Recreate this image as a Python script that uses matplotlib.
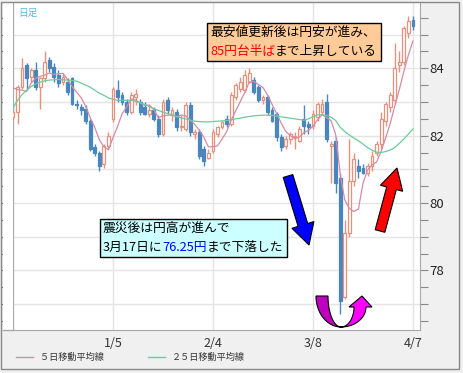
import numpy as np
import pandas as pd
import matplotlib.pyplot as plt
from matplotlib.patches import Rectangle, FancyArrow, Polygon
from matplotlib.transforms import IdentityTransform
from matplotlib.offsetbox import TextArea, HPacker, VPacker, AnnotationBbox
from matplotlib.lines import Line2D

plt.rcParams['font.family'] = ['Noto Sans CJK JP', 'DejaVu Sans']

W, H = 464, 373

# daily USD/JPY candles, 2010/12/6 .. 2011/4/7
opens = [82.55, 82.70, 83.45, 84.10, 83.75, 83.95, 83.45, 83.70, 84.25, 84.05,
         83.80, 83.60, 83.60, 83.70, 82.95, 82.85, 82.80, 82.45, 81.65, 81.50,
         81.15, 81.70, 82.50, 83.35, 83.20, 83.00, 82.70, 83.15, 83.00, 82.85,
         82.65, 82.75, 82.50, 82.05, 83.05, 82.60, 82.70, 82.25, 82.20, 82.90,
         82.05, 82.10, 81.60, 81.35, 81.55, 82.05, 82.25, 82.50, 82.35, 83.15,
         83.40, 83.35, 83.60, 83.65, 83.45, 83.05, 83.15, 82.75, 82.65, 81.95,
         81.70, 81.90, 81.95, 81.85, 82.50, 82.35, 82.30, 82.55, 82.70, 83.00,
         81.70, 81.85, 80.75, 77.20, 79.10, 80.65, 81.10, 81.05, 80.90, 81.10,
         81.50, 81.75, 82.45, 82.85, 83.05, 84.10, 84.20, 85.05, 85.45]
highs = [82.90, 83.50, 84.30, 84.15, 84.00, 84.20, 83.75, 84.50, 84.35, 84.15,
         83.95, 83.85, 83.70, 83.75, 83.05, 82.95, 82.90, 82.50, 81.75, 81.55,
         81.75, 82.10, 83.45, 83.65, 83.30, 83.10, 83.30, 83.40, 83.10, 83.00,
         82.90, 82.85, 82.60, 83.10, 83.15, 82.85, 82.80, 82.60, 83.00, 83.00,
         82.20, 82.20, 81.70, 81.60, 82.20, 82.30, 82.45, 82.60, 83.30, 83.55,
         83.75, 83.95, 84.00, 83.75, 83.50, 83.20, 83.20, 82.85, 82.70, 82.05,
         82.00, 82.10, 82.10, 82.30, 82.90, 82.45, 82.75, 83.00, 83.10, 83.25,
         81.85, 81.95, 80.90, 79.50, 81.90, 81.50, 81.30, 81.15, 81.20, 81.55,
         81.85, 82.70, 83.00, 83.30, 84.75, 84.50, 85.25, 85.55, 85.55]
lows = [82.50, 82.35, 83.40, 83.35, 83.60, 83.35, 82.80, 83.60, 83.90, 83.60,
        83.45, 83.50, 83.20, 82.90, 82.80, 82.60, 82.35, 81.55, 81.40, 80.95,
        81.05, 81.60, 82.40, 83.00, 82.90, 82.60, 82.65, 82.90, 82.60, 82.60,
        82.55, 82.45, 81.95, 82.00, 82.65, 82.45, 82.15, 82.15, 82.15, 82.00,
        81.90, 81.30, 81.10, 81.30, 81.50, 81.95, 82.20, 82.25, 82.30, 83.05,
        83.30, 83.30, 83.55, 83.25, 83.00, 82.95, 82.60, 82.40, 81.85, 81.55,
        81.60, 81.75, 81.60, 81.80, 82.05, 82.05, 82.20, 82.45, 82.60, 81.80,
        80.60, 80.30, 76.70, 77.15, 79.00, 80.50, 80.75, 80.85, 80.80, 80.95,
        81.40, 81.60, 82.30, 82.70, 82.95, 83.90, 84.10, 84.90, 85.15]
closes = [82.70, 83.45, 84.00, 83.70, 83.95, 83.45, 83.70, 84.20, 84.00, 83.75,
          83.55, 83.75, 83.30, 82.95, 82.90, 82.75, 82.45, 81.60, 81.50, 81.10,
          81.70, 82.00, 83.40, 83.15, 83.00, 82.70, 83.20, 83.25, 82.70, 82.65,
          82.75, 82.50, 82.05, 83.00, 82.75, 82.75, 82.25, 82.30, 82.90, 82.10,
          82.10, 81.40, 81.25, 81.50, 82.10, 82.25, 82.40, 82.35, 83.20, 83.50,
          83.60, 83.80, 83.85, 83.30, 83.05, 83.15, 82.70, 82.45, 81.95, 81.65,
          81.90, 82.05, 82.00, 82.20, 82.30, 82.25, 82.65, 82.95, 82.95, 81.90,
          81.75, 80.60, 77.10, 79.10, 80.65, 81.30, 80.95, 80.90, 81.10, 81.40,
          81.75, 82.50, 82.95, 83.20, 84.00, 84.20, 85.20, 85.40, 85.25]
prior_closes = [83.70, 84.10, 83.90, 82.70]

# 25 day moving average
ma25 = [82.82, 83.05, 83.22, 83.35, 83.46, 83.54, 83.59, 83.63, 83.65, 83.66,
        83.67, 83.66, 83.65, 83.64, 83.62, 83.56, 83.50, 83.44, 83.35, 83.26,
        83.20, 83.12, 83.08, 83.05, 83.05, 83.05, 83.05, 83.02, 82.98, 82.92,
        82.86, 82.80, 82.75, 82.70, 82.66, 82.62, 82.57, 82.53, 82.50, 82.46,
        82.43, 82.42, 82.41, 82.41, 82.42, 82.43, 82.44, 82.45, 82.47, 82.50,
        82.52, 82.55, 82.57, 82.59, 82.60, 82.61, 82.61, 82.60, 82.58, 82.56,
        82.54, 82.52, 82.50, 82.48, 82.46, 82.50, 82.56, 82.62, 82.62, 82.60,
        82.55, 82.45, 82.25, 82.12, 82.02, 81.93, 81.85, 81.75, 81.65, 81.57,
        81.51, 81.50, 81.53, 81.57, 81.65, 81.77, 81.90, 82.05, 82.20]

tick_pos = [22, 44, 66, 88]
tick_labels = ["1/5", "2/4", "3/8", "4/7"]

UP = '#E8907A'
DOWN = '#4A86BE'
PINK = '#D68AA8'
GREEN = '#6CCB9A'

ma5 = pd.Series(prior_closes + closes).rolling(5).mean().iloc[len(prior_closes):].values
x = np.arange(len(closes))

fig = plt.figure(figsize=(W / 100, H / 100), dpi=100, facecolor='#F0F0F0')

# white strip left of the axis (tick area)
fig.patches.append(Rectangle((3 / W, 1 - 330 / H), 10 / W, 327 / H,
                             transform=fig.transFigure, facecolor='white',
                             edgecolor='none', zorder=0))

ax = fig.add_axes([13 / W, 1 - 330 / H, 407 / W, 327 / H])
ax.set_facecolor('white')
ax.set_xlim(0, 89.55)
ax.set_ylim(76.23, 85.94)

for v in range(77, 86):
    ax.axhline(v, color='#E4E4E4', lw=1, zorder=0)
for p in tick_pos:
    ax.axvline(p, color='#E4E4E4', lw=1, zorder=0)

bw = 0.62
for i in range(len(closes)):
    o, h, l, c = opens[i], highs[i], lows[i], closes[i]
    up = c >= o
    col = UP if up else DOWN
    ax.vlines(i, l, h, color=col, lw=1, zorder=2)
    ax.add_patch(Rectangle((i - bw / 2, min(o, c)), bw, max(abs(c - o), 0.02),
                           facecolor='white' if up else DOWN, edgecolor=col,
                           lw=0.9, zorder=3))

ax.plot(x, ma5, color=PINK, lw=0.9, zorder=4)
ax.plot(x, ma25, color=GREEN, lw=0.9, zorder=4)

yt = np.arange(76.5, 86.0, 0.5)
ax.set_yticks(yt)
ax.set_yticklabels([str(int(v)) if v % 2 == 0 else '' for v in yt])
ax.yaxis.tick_right()
ax.tick_params(axis='y', length=6, color='#888888', labelsize=9.5,
               labelcolor='#222222', pad=1)
ax.set_xticks(tick_pos)
ax.set_xticklabels(tick_labels)
ax.tick_params(axis='x', length=0, labelsize=9, labelcolor='#333333', pad=5)
ax.spines['top'].set_visible(False)
for s in ['left', 'right', 'bottom']:
    ax.spines[s].set_color('#A8A8A8')

left = ax.secondary_yaxis('left')
left.set_yticks(yt)
left.set_yticklabels([])
left.tick_params(length=9, color='#777777')
left.spines['left'].set_color('#A8A8A8')

fig.add_artist(Line2D([3 / W, 13 / W], [1 - 330 / H] * 2, color='#A8A8A8', lw=1))

ax.text(0.012, 0.985, '日足', transform=ax.transAxes, color='#55B8EE',
        fontsize=7, va='top', ha='left')


def box(lines, xy, fc):
    rows = []
    for segs in lines:
        rows.append(HPacker(children=[TextArea(t, textprops=dict(color=cl, fontsize=9.2))
                                      for t, cl in segs], sep=0, pad=0, align='baseline'))
    vp = VPacker(children=rows, sep=4, pad=0, align='left')
    ab = AnnotationBbox(vp, (xy[0], H - xy[1]), xycoords='figure pixels',
                        box_alignment=(0, 1), frameon=True, pad=0.25,
                        bboxprops=dict(facecolor=fc, edgecolor='black', lw=1,
                                       boxstyle='square,pad=0.25'))
    fig.add_artist(ab)


box([[('最安値更新後は円安が進み、', 'black')],
     [('85円台半ば', '#FF0000'), ('まで上昇している', 'black')]],
    (210, 26), '#FFCC99')
box([[('震災後は円高が進んで', 'black')],
     [('3月17日に', 'black'), ('76.25円', '#0000FF'), ('まで下落した', 'black')]],
    (103, 222), '#CCFFFF')


def arrow(x0, y0, x1, y1, color):
    a = FancyArrow(x0, H - y0, x1 - x0, -(y1 - y0), width=10, head_width=23,
                   head_length=21, length_includes_head=True,
                   transform=IdentityTransform(), facecolor=color,
                   edgecolor='black', lw=0.8)
    fig.add_artist(a)


arrow(288, 176, 309, 245, '#0000FF')
arrow(380, 231, 397, 168, '#FF0000')

# U-turn arrow
cx, cy = 341, 296
t = np.linspace(np.pi, np.pi / 2, 30)
outer = np.c_[cx + 25 * np.cos(t), cy + 31 * np.sin(t)]
inner = np.c_[cx + 13 * np.cos(t[::-1]), cy + 31 * np.sin(t[::-1])]
left_pts = np.r_[outer, inner]
fig.add_artist(Polygon(np.c_[left_pts[:, 0], H - left_pts[:, 1]], closed=True,
                       transform=IdentityTransform(), facecolor='#C000C0',
                       edgecolor='black', lw=0.8))
cy2 = 307
t2 = np.linspace(np.pi / 2, 0, 30)
inner2 = np.c_[cx + 13 * np.cos(t2), cy2 + 20 * np.sin(t2)]
outer2 = np.c_[cx + 25 * np.cos(t2[::-1]), cy2 + 20 * np.sin(t2[::-1])]
head = np.array([[349, 307], [362, 296], [372, 307]])
right_pts = np.r_[inner2, head, outer2]
fig.add_artist(Polygon(np.c_[right_pts[:, 0], H - right_pts[:, 1]], closed=True,
                       transform=IdentityTransform(), facecolor='#FF00FF',
                       edgecolor='black', lw=0.8))

# legend
fig.add_artist(Line2D([16 / W, 33 / W], [1 - 357 / H] * 2, color=PINK, lw=1))
fig.text(40 / W, 1 - 357 / H, '５日移動平均線', fontsize=6.6, color='#333333', va='center')
fig.add_artist(Line2D([148 / W, 165 / W], [1 - 357 / H] * 2, color=GREEN, lw=1))
fig.text(172 / W, 1 - 357 / H, '２５日移動平均線', fontsize=6.6, color='#333333', va='center')

fig.patches.append(Rectangle((1.5 / W, 1 - 368.5 / H), 458 / W, 367 / H,
                             transform=fig.transFigure, facecolor='none',
                             edgecolor='#888888', lw=1, zorder=10))

fig.savefig('out.png', dpi=100, facecolor=fig.get_facecolor())
